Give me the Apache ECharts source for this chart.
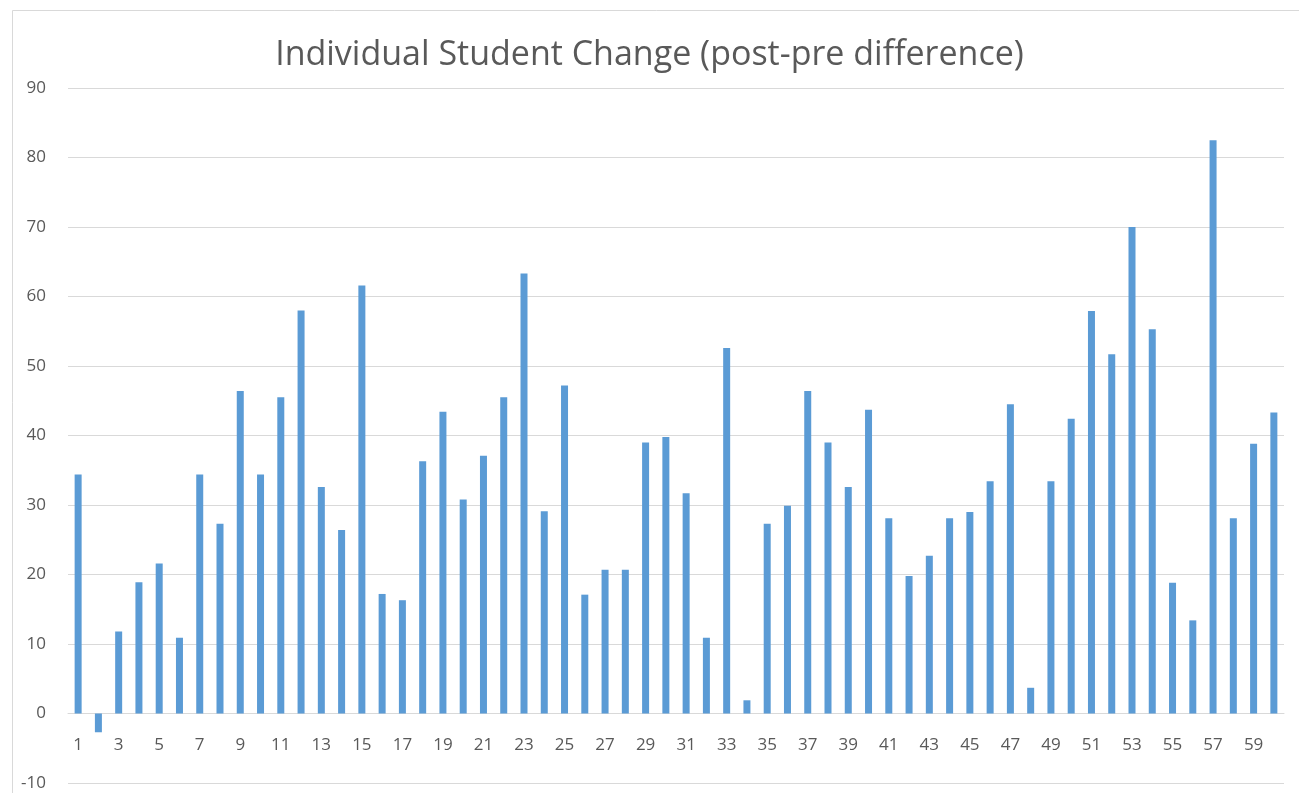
<!DOCTYPE html>
<html>
<head>
<meta charset="utf-8">
<script src="https://cdn.jsdelivr.net/npm/echarts@6/dist/echarts.min.js"></script>
<style>html,body{margin:0;padding:0;background:#fff;}#c{width:1299px;height:793px;}</style>
</head>
<body>
<div id="c"></div>
<script>
const titleText = "Individual Student Change (post-pre difference)";
const categories = [];
for (let i = 1; i <= 60; i++) categories.push(String(i));
const values = [
  34.4, -2.7, 11.8, 18.9, 21.6, 10.9, 34.4, 27.3, 46.4, 34.4,
  45.5, 58.0, 32.6, 26.4, 61.6, 17.2, 16.3, 36.3, 43.4, 30.8,
  37.1, 45.5, 63.3, 29.1, 47.2, 17.1, 20.7, 20.7, 39.0, 39.8,
  31.7, 10.9, 52.6, 1.9, 27.3, 29.9, 46.4, 39.0, 32.6, 43.7,
  28.1, 19.8, 22.7, 28.1, 29.0, 33.4, 44.5, 3.7, 33.4, 42.4,
  57.9, 51.7, 70.0, 55.3, 18.8, 13.4, 82.5, 28.1, 38.8, 43.3
];
const yMin = -10, yMax = 90, yStep = 10;

const chart = echarts.init(document.getElementById('c'));
chart.setOption({
  animation: false,
  backgroundColor: '#fff',
  title: {
    text: titleText,
    left: 'center',
    top: 33,
    textStyle: { fontFamily: 'Open Sans', fontWeight: 'normal', fontSize: 34, color: '#595959' }
  },
  graphic: [{
    type: 'rect', left: 10, top: 8,
    shape: { width: 1320, height: 820 },
    style: { fill: 'none', stroke: '#d9d9d9', lineWidth: 1 }
  }],
  grid: { left: 68, right: 15, top: 88, bottom: 10, containLabel: false, outerBoundsMode: 'none' },
  xAxis: {
    type: 'category',
    data: categories,
    position: 'bottom',
    offset: -69.5,
    axisLine: { onZero: false, lineStyle: { color: '#d9d9d9', width: 1 } },
    axisTick: { show: false },
    axisLabel: { interval: 1, color: '#595959', fontFamily: 'Open Sans', fontSize: 17, margin: 23 },
    splitLine: { show: false }
  },
  yAxis: {
    type: 'value',
    min: yMin, max: yMax, interval: yStep,
    axisLine: { show: false },
    axisTick: { show: false },
    axisLabel: { color: '#595959', fontFamily: 'Open Sans', fontSize: 17, margin: 22 },
    splitLine: { lineStyle: { color: '#d9d9d9', width: 1 } }
  },
  series: [{
    type: 'bar',
    data: values,
    barWidth: 7,
    itemStyle: { color: '#5b9bd5' }
  }]
});
</script>
</body>
</html>
